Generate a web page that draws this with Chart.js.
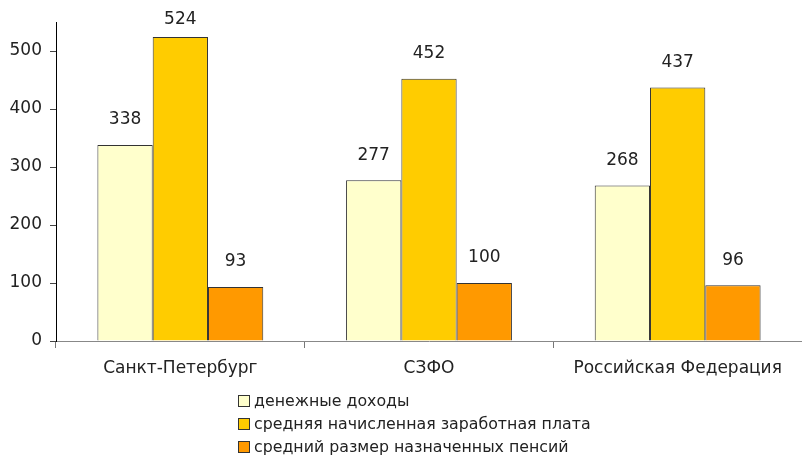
<!DOCTYPE html>
<html>
<head>
<meta charset="utf-8">
<script src="https://cdn.jsdelivr.net/npm/chart.js@4"></script>
<style>
  body { margin: 0; background: #fff; font-family: "DejaVu Sans", sans-serif; }
  #wrap { position: relative; width: 802px; height: 457px; }
  #legend { position: absolute; left: 238px; top: 389px; font-size: 15.8px; color: #222; }
  #legend div { height: 23px; line-height: 23px; display: flex; align-items: center; }
  #legend span.box { width: 10px; height: 10px; border: 1px solid #333; margin-right: 4px; display: inline-block; }
</style>
</head>
<body>
<div id="wrap">
  <canvas id="chart" width="802" height="390"></canvas>
  <div id="legend"></div>
</div>
<script>
// données
const regions = ["Санкт-Петербург", "СЗФО", "Российская Федерация"];
const seriesNames = ["денежные доходы", "средняя начисленная заработная плата", "средний размер назначенных пенсий"];
const incomes = [338, 277, 268];
const wages = [524, 452, 437];
const pensions = [93, 100, 96];
const colors = ["#FFFFCC", "#FFCC00", "#FF9900"];
const fontName = "DejaVu Sans";

// étiquettes au-dessus des barres
const valueLabels = {
  id: "valueLabels",
  afterDatasetsDraw(chart) {
    const ctx = chart.ctx;
    ctx.save();
    ctx.font = "17px '" + fontName + "'";
    ctx.fillStyle = "#222";
    ctx.textAlign = "center";
    ctx.textBaseline = "middle";
    chart.data.datasets.forEach((ds, i) => {
      chart.getDatasetMeta(i).data.forEach((bar, j) => {
        ctx.fillText(ds.data[j], bar.x, Math.max(bar.y - 25, 20));
      });
    });
    ctx.restore();
  }
};

const allData = [incomes, wages, pensions];

new Chart(document.getElementById("chart"), {
  type: "bar",
  data: {
    labels: regions,
    datasets: allData.map((d, i) => ({
      label: seriesNames[i],
      data: d,
      backgroundColor: colors[i],
      borderColor: "#333",
      borderWidth: 1,
      categoryPercentage: 0.667,
      barPercentage: 1
    }))
  },
  options: {
    responsive: false,
    animation: false,
    layout: { padding: { top: 22, left: 0, right: 0, bottom: 0 } },
    plugins: { legend: { display: false }, tooltip: { enabled: false } },
    scales: {
      x: {
        afterFit(s) { s.height = 49; },
        grid: { offset: true, drawOnChartArea: false, tickLength: 7, color: "#777" },
        border: { color: "#888" },
        ticks: { font: { family: fontName, size: 17 }, color: "#222", padding: 10 }
      },
      y: {
        min: 0,
        max: 550,
        afterFit(s) { s.width = 56; },
        grid: { drawOnChartArea: false, tickLength: 6, color: "#444" },
        border: { color: "#000" },
        ticks: { stepSize: 100, includeBounds: false, font: { family: fontName, size: 17 }, color: "#222", padding: 8 }
      }
    }
  },
  plugins: [valueLabels]
});

// légende verticale
const legend = document.getElementById("legend");
seriesNames.forEach((name, i) => {
  const row = document.createElement("div");
  row.innerHTML = `<span class="box" style="background:${colors[i]}"></span>${name}`;
  legend.appendChild(row);
});
</script>
</body>
</html>
